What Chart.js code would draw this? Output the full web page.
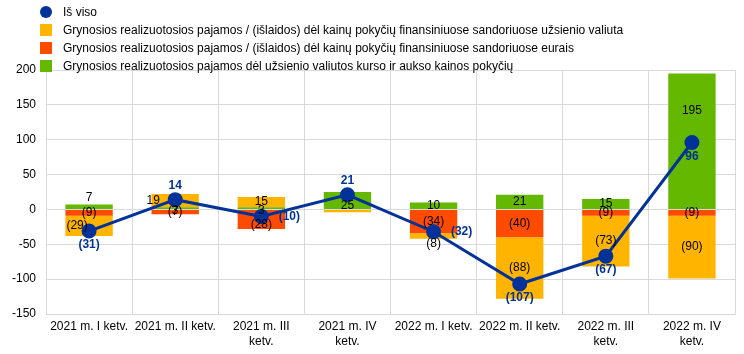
<!DOCTYPE html>
<html>
<head>
<meta charset="utf-8">
<script src="https://cdn.jsdelivr.net/npm/chart.js@4"></script>
<style>
  html, body { margin: 0; background: #fff; font-family: "Liberation Sans", Arial, sans-serif; overflow: hidden; }
  #wrap { position: relative; width: 744px; height: 354px; }
  #grafikas { display: block; width: 744px; height: 354px; }
  #legenda { position: absolute; left: 40px; top: 3px; font-size: 12px; color: #000; }
  #legenda div { height: 18px; line-height: 18px; display: flex; align-items: center; }
  #legenda span.m { display: inline-block; width: 12px; height: 12px; margin-right: 11px; }
</style>
</head>
<body>
<div id="wrap">
  <canvas id="grafikas" width="744" height="354"></canvas>
  <div id="legenda"></div>
</div>
<script>
// Duomenys
const ketvirciai = [
  "2021 m. I ketv.", "2021 m. II ketv.", ["2021 m. III", "ketv."], ["2021 m. IV", "ketv."],
  "2022 m. I ketv.", "2022 m. II ketv.", ["2022 m. III", "ketv."], ["2022 m. IV", "ketv."]
];
const isViso = [-31, 14, -10, 21, -32, -107, -67, 96];
const uzsienioValiuta = [-29, 19, 15, -4, -8, -88, -73, -90];
const eurais = [-9, -7, -28, 0, -34, -40, -9, -9];
const kursoPokytis = [7, 3, 3, 25, 10, 21, 15, 195];
const yTicks = [-150, -100, -50, 0, 50, 100, 150, 200];

const pavadinimai = [
  "Iš viso",
  "Grynosios realizuotosios pajamos / (išlaidos) dėl kainų pokyčių finansiniuose sandoriuose užsienio valiuta",
  "Grynosios realizuotosios pajamos / (išlaidos) dėl kainų pokyčių finansiniuose sandoriuose eurais",
  "Grynosios realizuotosios pajamos dėl užsienio valiutos kurso ir aukso kainos pokyčių"
];
const spalvos = ["#003299", "#FFB400", "#FF4B00", "#65B800"];

// legenda
const leg = document.getElementById("legenda");
pavadinimai.forEach((p, i) => {
  const d = document.createElement("div");
  const m = document.createElement("span");
  m.className = "m";
  m.style.background = spalvos[i];
  if (i === 0) m.style.borderRadius = "50%";
  d.appendChild(m);
  d.appendChild(document.createTextNode(p));
  leg.appendChild(d);
});

const fmt = v => v < 0 ? "(" + Math.abs(v) + ")" : String(v);

// etikečių poslinkiai (dx, dy)
const poslinkiai = {
  "1-0": [-12, 0], "1-1": [-22, 0], "1-4": [0, 8],
  "3-0": [0, -9], "3-1": [0, 3], "3-2": [0, 3], "3-3": [0, 5], "3-7": [0, -31],
  "2-2": [0, 5]
};
const hide = { "1-3": true, "2-3": true };
const sumosVieta = ["below", "above", "right", "above", "right", "below", "below", "below"];

const etiketes = {
  id: "etiketes",
  afterDatasetsDraw(chart) {
    const ctx = chart.ctx;
    ctx.save();
    ctx.textAlign = "center";
    ctx.textBaseline = "middle";
    ctx.font = "12px 'Liberation Sans', Arial, sans-serif";
    ctx.fillStyle = "#000";
    chart.data.datasets.forEach((ds, di) => {
      if (ds.type !== "bar") return;
      const meta = chart.getDatasetMeta(di);
      meta.data.forEach((el, i) => {
        const v = ds.data[i];
        if (!v || hide[ds.key + "-" + i]) return;
        const o = poslinkiai[ds.key + "-" + i] || [0, 0];
        ctx.fillText(fmt(v), el.x + o[0], (el.y + el.base) / 2 + o[1]);
      });
    });
    // sumos
    const lm = chart.getDatasetMeta(0);
    ctx.font = "bold 12px 'Liberation Sans', Arial, sans-serif";
    ctx.fillStyle = "#003299";
    lm.data.forEach((pt, i) => {
      let x = pt.x, y = pt.y;
      if (sumosVieta[i] === "below") y += 14;
      else if (sumosVieta[i] === "above") y -= 14;
      else { x += 28; }
      ctx.fillText(fmt(isViso[i]), x, y);
    });
    ctx.restore();
  }
};

new Chart(document.getElementById("grafikas").getContext("2d"), {
  data: {
    labels: ketvirciai,
    datasets: [
      { type: "line", label: pavadinimai[0], data: isViso, borderColor: spalvos[0], backgroundColor: spalvos[0],
        borderWidth: 3, pointRadius: 6, pointHoverRadius: 6, tension: 0, order: 0 },
      { type: "bar", key: 3, label: pavadinimai[3], data: kursoPokytis, backgroundColor: spalvos[3],
        stack: "s", barPercentage: 0.55, categoryPercentage: 1, order: 1 },
      { type: "bar", key: 2, label: pavadinimai[2], data: eurais, backgroundColor: spalvos[2],
        stack: "s", barPercentage: 0.55, categoryPercentage: 1, order: 2 },
      { type: "bar", key: 1, label: pavadinimai[1], data: uzsienioValiuta, backgroundColor: spalvos[1],
        stack: "s", barPercentage: 0.55, categoryPercentage: 1, order: 3 }
    ]
  },
  options: {
    responsive: false,
    animation: false,
    layout: { padding: { top: 70, right: 3, left: 2, bottom: 0 } },
    plugins: { legend: { display: false }, tooltip: { enabled: false } },
    scales: {
      x: {
        stacked: true,
        grid: { color: "#d9d9d9", offset: true, drawTicks: false },
        border: { color: "#d9d9d9" },
        ticks: { color: "#000", font: { size: 12, lineHeight: 1.25, family: "'Liberation Sans', Arial, sans-serif" }, maxRotation: 0, autoSkip: false, padding: 5 }
      },
      y: {
        stacked: true,
        min: -150, max: 200,
        afterBuildTicks: ax => { ax.ticks = yTicks.map(v => ({ value: v })); },
        grid: { color: "#d9d9d9", drawTicks: false },
        border: { color: "#d9d9d9" },
        ticks: { color: "#000", font: { size: 12, family: "'Liberation Sans', Arial, sans-serif" }, padding: 10 }
      }
    }
  },
  plugins: [etiketes]
});
</script>
</body>
</html>
